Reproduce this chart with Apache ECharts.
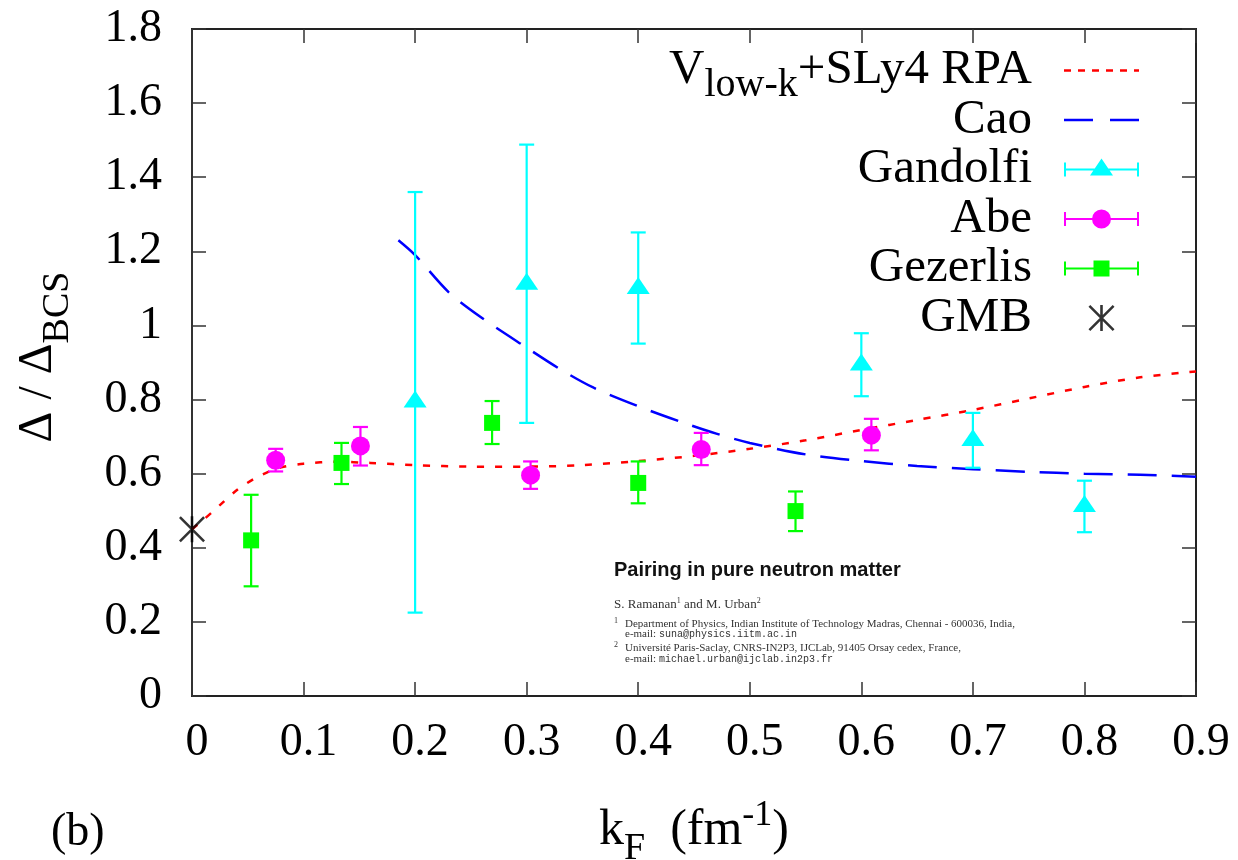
<!DOCTYPE html>
<html>
<head>
<meta charset="utf-8">
<script src="https://cdn.jsdelivr.net/npm/echarts@6/dist/echarts.min.js"></script>
<style>
html,body{margin:0;padding:0;background:#fff;}
#chart{width:1238px;height:860px;}
</style>
</head>
<body>
<div id="chart"></div>
<script>
// ---------- data ----------
const xTickLabels = ['0','0.1','0.2','0.3','0.4','0.5','0.6','0.7','0.8','0.9'];
const yTickLabels = ['0','0.2','0.4','0.6','0.8','1','1.2','1.4','1.6','1.8'];

const rpaX = [0, 0.01, 0.025, 0.04, 0.055, 0.07, 0.08, 0.1, 0.13, 0.16, 0.2, 0.25, 0.3, 0.35, 0.4, 0.45, 0.5, 0.55, 0.6, 0.65, 0.7, 0.75, 0.8, 0.85, 0.9];
const rpaY = [0.45, 0.475, 0.515, 0.555, 0.585, 0.607, 0.617, 0.627, 0.632, 0.629, 0.623, 0.619, 0.619, 0.623, 0.634, 0.648, 0.667, 0.69, 0.718, 0.745, 0.772, 0.803, 0.834, 0.86, 0.876];

const caoX = [0.185, 0.2, 0.23, 0.26, 0.3, 0.33, 0.36, 0.4, 0.44, 0.47, 0.5, 0.55, 0.6, 0.65, 0.7, 0.75, 0.8, 0.85, 0.9];
const caoY = [1.23, 1.19, 1.09, 1.02, 0.94, 0.882, 0.832, 0.782, 0.738, 0.708, 0.683, 0.652, 0.634, 0.621, 0.612, 0.605, 0.600, 0.597, 0.592];

const gandolfiX  = [0.2, 0.3, 0.4, 0.6, 0.7, 0.8];
const gandolfiY  = [0.794, 1.112, 1.100, 0.894, 0.690, 0.512];
const gandolfiLo = [0.225, 0.737, 0.951, 0.809, 0.616, 0.442];
const gandolfiHi = [1.360, 1.488, 1.251, 0.979, 0.764, 0.581];

const abeX  = [0.075, 0.151, 0.3035, 0.4565, 0.609];
const abeY  = [0.636, 0.675, 0.596, 0.665, 0.704];
const abeLo = [0.606, 0.622, 0.559, 0.623, 0.663];
const abeHi = [0.667, 0.726, 0.633, 0.710, 0.748];

const gezerlisX  = [0.053, 0.134, 0.269, 0.400, 0.541];
const gezerlisY  = [0.420, 0.629, 0.737, 0.575, 0.499];
const gezerlisLo = [0.296, 0.572, 0.680, 0.520, 0.445];
const gezerlisHi = [0.543, 0.683, 0.796, 0.633, 0.552];

const gmbX = [0];
const gmbY = [0.45];

const seriesNames = ['Vlow-k+SLy4 RPA', 'Cao', 'Gandolfi', 'Abe', 'Gezerlis', 'GMB'];

// ---------- helpers ----------
const SERIF = 'Liberation Serif';
const pair = (xs, ys) => xs.map((x, i) => [x, ys[i]]);
const quad = (xs, ys, lo, hi) => xs.map((x, i) => [x, ys[i], lo[i], hi[i]]);

function errRender(marker, color) {
  return function (params, api) {
    const x = api.value(0), y = api.value(1), lo = api.value(2), hi = api.value(3);
    const pLo = api.coord([x, lo]), pHi = api.coord([x, hi]), p = api.coord([x, y]);
    const cap = 7.5;
    const st = { stroke: color, lineWidth: 2.2, fill: null };
    const children = [
      { type: 'line', shape: { x1: pLo[0], y1: pLo[1], x2: pHi[0], y2: pHi[1] }, style: st },
      { type: 'line', shape: { x1: pLo[0] - cap, y1: pLo[1], x2: pLo[0] + cap, y2: pLo[1] }, style: st },
      { type: 'line', shape: { x1: pHi[0] - cap, y1: pHi[1], x2: pHi[0] + cap, y2: pHi[1] }, style: st }
    ];
    if (marker === 'triangle') {
      children.push({ type: 'polygon', shape: { points: [[p[0] - 11.5, p[1] + 5.7], [p[0] + 11.5, p[1] + 5.7], [p[0], p[1] - 11.3]] }, style: { fill: color } });
    } else if (marker === 'circle') {
      children.push({ type: 'circle', shape: { cx: p[0], cy: p[1], r: 9.5 }, style: { fill: color } });
    } else {
      children.push({ type: 'rect', shape: { x: p[0] - 8, y: p[1] - 8, width: 16, height: 16 }, style: { fill: color } });
    }
    return { type: 'group', children };
  };
}

// legend icons (75 x 28 box)
const box = 'M0 0L0 0Z M75 28L75 28Z ';
const barPath = 'M0 13H75V15H0Z M0 7H2V21H0Z M73 7H75V21H73Z ';
const iconTri = 'path://' + box + barPath + 'M26 20L37.5 3L49 20Z';
const iconCirc = 'path://' + box + barPath + 'M28 14a9.5 9.5 0 1 1 19 0a9.5 9.5 0 1 1 -19 0Z';
const iconSq = 'path://' + box + barPath + 'M29.5 6H45.5V22H29.5Z';
let dots = '';
for (let x0 = 0; x0 < 75; x0 += 14) { dots += 'M' + x0 + ' 12.8H' + Math.min(x0 + 7, 75) + 'V15.2H' + x0 + 'Z '; }
const iconDot = 'path://' + box + dots;
const iconDash = 'path://' + box + 'M0 12.7H29V15.3H0Z M46 12.7H75V15.3H46Z';
function starPath(ox, oy) {
  const P = (pts) => 'M' + pts.map(q => (q[0] + ox) + ' ' + (q[1] + oy)).join('L') + 'Z ';
  return P([[11.7, 0], [14.3, 0], [14.3, 26], [11.7, 26]]) +
         P([[1.8, 0], [26, 24.2], [24.2, 26], [0, 1.8]]) +
         P([[24.2, 0], [26, 1.8], [1.8, 26], [0, 24.2]]);
}
const starSymbol = 'path://' + starPath(0, 0);
const iconStar = 'path://' + box + starPath(24.5, 1);

function tick() { return { show: true, inside: true, length: 14, lineStyle: { color: '#333', width: 1.5 } }; }

const chart = echarts.init(document.getElementById('chart'), null, { renderer: 'canvas' });

const LH = 76;
const option = {
  backgroundColor: '#fff',
  animation: false,
  grid: {
    left: 192, right: 42, top: 29, bottom: 164,
    show: true, borderColor: '#222', borderWidth: 2, backgroundColor: 'transparent',
    containLabel: false, outerBoundsMode: 'none'
  },
  xAxis: [
    {
      type: 'value', min: 0, max: 0.9, interval: 0.1, position: 'bottom',
      splitLine: { show: false },
      axisLine: { show: true, onZero: false, lineStyle: { color: '#222', width: 2 } },
      axisTick: tick(),
      axisLabel: {
        margin: 24, fontFamily: SERIF, fontSize: 46, color: '#000', padding: [0, 0, 0, 10],
        formatter: v => xTickLabels[Math.round(v * 10)]
      },
      name: '{t|k}{sub|F}{t|  (fm}{sup|-1}{t|)}',
      nameLocation: 'middle', nameGap: 110,
      nameTextStyle: {
        fontFamily: SERIF, fontSize: 50, color: '#000',
        rich: {
          t: { fontFamily: SERIF, fontSize: 50, lineHeight: 50, color: '#000' },
          sub: { fontFamily: SERIF, fontSize: 38, lineHeight: 10, padding: [36, 0, 0, 0], color: '#000' },
          sup: { fontFamily: SERIF, fontSize: 36, lineHeight: 12, padding: [0, 0, 30, 0], color: '#000' }
        }
      }
    },
    {
      type: 'value', min: 0, max: 0.9, interval: 0.1, position: 'top',
      splitLine: { show: false },
      axisLine: { show: true, onZero: false, lineStyle: { color: '#222', width: 2 } },
      axisTick: tick(), axisLabel: { show: false }
    }
  ],
  yAxis: [
    {
      type: 'value', min: 0, max: 1.8, interval: 0.2, position: 'left',
      splitLine: { show: false },
      axisLine: { show: true, onZero: false, lineStyle: { color: '#333', width: 2 } },
      axisTick: tick(),
      axisLabel: {
        margin: 30, fontFamily: SERIF, fontSize: 46, color: '#000',
        formatter: v => yTickLabels[Math.round(v / 0.2)]
      }
    },
    {
      type: 'value', min: 0, max: 1.8, interval: 0.2, position: 'right',
      splitLine: { show: false },
      axisLine: { show: true, onZero: false, lineStyle: { color: '#222', width: 2 } },
      axisTick: tick(), axisLabel: { show: false }
    }
  ],
  legend: {
    orient: 'vertical', right: 99, top: 32.5, padding: 0, itemGap: 49.5 - LH,
    itemWidth: 75, itemHeight: 28, align: 'right', selectedMode: false,
    textStyle: {
      fontFamily: SERIF, fontSize: 49, color: '#000', lineHeight: LH, padding: [0, 27, 0, 0],
      rich: {
        v: { fontFamily: SERIF, fontSize: 49, lineHeight: LH, color: '#000' },
        s: { fontFamily: SERIF, fontSize: 40, lineHeight: 12, padding: [30, 0, 0, 0], color: '#000' }
      }
    },
    formatter: name => name === seriesNames[0] ? '{v|V}{s|low-k}{v|+SLy4 RPA}' : name,
    data: [
      { name: seriesNames[0], icon: iconDot },
      { name: seriesNames[1], icon: iconDash },
      { name: seriesNames[2], icon: iconTri },
      { name: seriesNames[3], icon: iconCirc },
      { name: seriesNames[4], icon: iconSq },
      { name: seriesNames[5], icon: iconStar }
    ]
  },
  series: [
    {
      name: seriesNames[0], type: 'line', data: pair(rpaX, rpaY), smooth: 0.3,
      symbol: 'none', showSymbol: false, color: '#ff0000', itemStyle: { color: '#ff0000' },
      lineStyle: { color: '#ff0000', width: 2.5, type: [7, 11] }, z: 2
    },
    {
      name: seriesNames[1], type: 'line', data: pair(caoX, caoY), smooth: 0.3,
      symbol: 'none', showSymbol: false, color: '#0000ff', itemStyle: { color: '#0000ff' },
      lineStyle: { color: '#0000ff', width: 2.5, type: [29, 15] }, z: 2
    },
    {
      name: seriesNames[2], type: 'custom', data: quad(gandolfiX, gandolfiY, gandolfiLo, gandolfiHi),
      encode: { x: 0, y: [1, 2, 3] }, itemStyle: { color: '#00ffff' },
      renderItem: errRender('triangle', '#00ffff'), z: 3
    },
    {
      name: seriesNames[3], type: 'custom', data: quad(abeX, abeY, abeLo, abeHi),
      encode: { x: 0, y: [1, 2, 3] }, itemStyle: { color: '#ff00ff' },
      renderItem: errRender('circle', '#ff00ff'), z: 3
    },
    {
      name: seriesNames[4], type: 'custom', data: quad(gezerlisX, gezerlisY, gezerlisLo, gezerlisHi),
      encode: { x: 0, y: [1, 2, 3] }, itemStyle: { color: '#00ff00' },
      renderItem: errRender('square', '#00ff00'), z: 3
    },
    {
      name: seriesNames[5], type: 'scatter', data: pair(gmbX, gmbY),
      symbol: starSymbol, symbolSize: 26, symbolKeepAspect: true,
      itemStyle: { color: '#000' }, z: 4
    }
  ],
  graphic: [
    {
      type: 'text', x: 38, y: 357, rotation: Math.PI / 2,
      style: {
        text: '{a|Δ / Δ}{b|BCS}', align: 'center', verticalAlign: 'middle', fill: '#000',
        rich: {
          a: { fontFamily: SERIF, fontSize: 48, lineHeight: 48, fill: '#000' },
          b: { fontFamily: SERIF, fontSize: 38, lineHeight: 6, padding: [40, 0, 0, 0], fill: '#000' }
        }
      }
    },
    { type: 'text', x: 51, y: 833, style: { text: '(b)', fontFamily: SERIF, fontSize: 46, verticalAlign: 'middle', fill: '#000' } },
    { type: 'text', x: 614, y: 570, style: { text: 'Pairing in pure neutron matter', font: 'bold 20px "Liberation Sans"', verticalAlign: 'middle', fill: '#111' } },
    {
      type: 'text', x: 614, y: 605,
      style: {
        text: '{t|S. Ramanan}{u|1}{t| and M. Urban}{u|2}', verticalAlign: 'middle',
        rich: {
          t: { fontFamily: SERIF, fontSize: 13, lineHeight: 14, fill: '#333' },
          u: { fontFamily: SERIF, fontSize: 8, lineHeight: 4, padding: [0, 0, 8, 0], fill: '#333' }
        }
      }
    },
    { type: 'text', x: 614, y: 621, style: { text: '1', fontFamily: SERIF, fontSize: 8, verticalAlign: 'middle', fill: '#333' } },
    { type: 'text', x: 625, y: 624, style: { text: 'Department of Physics, Indian Institute of Technology Madras, Chennai - 600036, India,', fontFamily: SERIF, fontSize: 11, verticalAlign: 'middle', fill: '#333' } },
    {
      type: 'text', x: 625, y: 634,
      style: {
        text: '{t|e-mail: }{m|suna@physics.iitm.ac.in}', verticalAlign: 'middle',
        rich: { t: { fontFamily: SERIF, fontSize: 11, fill: '#333' }, m: { fontFamily: 'Liberation Mono', fontSize: 10, fill: '#333' } }
      }
    },
    { type: 'text', x: 614, y: 645, style: { text: '2', fontFamily: SERIF, fontSize: 8, verticalAlign: 'middle', fill: '#333' } },
    { type: 'text', x: 625, y: 648, style: { text: 'Université Paris-Saclay, CNRS-IN2P3, IJCLab, 91405 Orsay cedex, France,', fontFamily: SERIF, fontSize: 11, verticalAlign: 'middle', fill: '#333' } },
    {
      type: 'text', x: 625, y: 659,
      style: {
        text: '{t|e-mail: }{m|michael.urban@ijclab.in2p3.fr}', verticalAlign: 'middle',
        rich: { t: { fontFamily: SERIF, fontSize: 11, fill: '#333' }, m: { fontFamily: 'Liberation Mono', fontSize: 10, fill: '#333' } }
      }
    }
  ]
};

chart.setOption(option);
</script>
</body>
</html>
